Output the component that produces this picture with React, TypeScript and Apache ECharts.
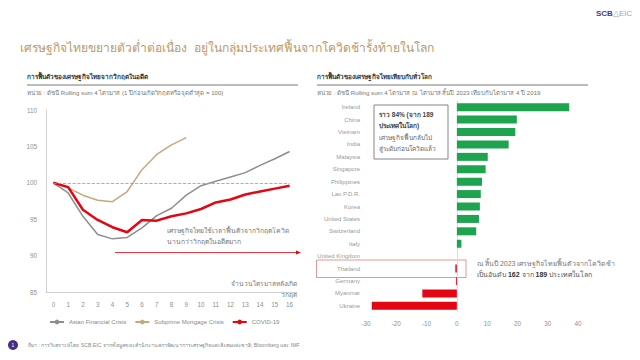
import React, { useEffect, useRef } from "react";
import * as echarts from "echarts";

const quarters = ["0", "1", "2", "3", "4", "5", "6", "7", "8", "9", "10", "11", "12", "13", "14", "15", "16"];
const asianCrisis = [100, 98.6, 95.4, 92.9, 92.3, 92.5, 93.8, 95.5, 96.5, 98.3, 99.6, 100.2, 100.8, 101.4, 102.4, 103.3, 104.3];
const subprimeCrisis = [100, 99.3, 98.3, 97.6, 97.4, 98.8, 101.8, 103.9, 105.2, 106.2];
const covid19 = [100, 99.4, 96.3, 94.9, 93.9, 93.2, 94.9, 94.8, 95.4, 95.8, 96.4, 97.3, 97.7, 98.4, 98.8, 99.2, 99.6];

const countries = [
  "Ireland", "China", "Vietnam", "India", "Malaysia", "Singapore", "Philippines", "Lao P.D.R.",
  "Korea", "United States", "Switzerland", "Italy", "United Kingdom", "Thailand", "Germany", "Myanmar", "Ukraine",
];
const recovery = [37.1, 19.8, 19.3, 17.1, 10.2, 9.5, 8.3, 7.9, 7.6, 7.3, 6.4, 1.5, 0, -0.5, -0.3, -11.4, -28.1];

const FONT = '"Liberation Sans", "Noto Sans", sans-serif';
const GRAY = "#8f8f8f";

export default function App() {
  const ref = useRef<HTMLDivElement>(null);
  useEffect(() => {
    const chart = echarts.init(ref.current!, null, { renderer: "svg" });
    const txt = (x: number, y: number, text: string, size: number, color: string, extra: any = {}) => ({
      type: "text",
      x,
      y,
      style: { text, fontSize: size, fill: color, fontFamily: FONT, verticalAlign: "middle", ...extra },
    });
    chart.setOption({
      animation: false,
      textStyle: { fontFamily: FONT },
      grid: [
        { left: 46, right: 343, top: 110, bottom: 68 },
        { left: 366, right: 62, top: 101, bottom: 48 },
      ],
      xAxis: [
        {
          gridIndex: 0,
          type: "category",
          data: quarters,
          boundaryGap: true,
          axisLine: { lineStyle: { color: "#cfcfcf" } },
          axisTick: { show: false },
          axisLabel: { color: GRAY, fontSize: 6.3, margin: 9 },
        },
        {
          gridIndex: 1,
          type: "value",
          min: -30,
          max: 40,
          interval: 10,
          axisLine: { show: false },
          axisTick: { show: false },
          splitLine: { show: false },
          axisLabel: { color: GRAY, fontSize: 6.3, margin: 8 },
        },
      ],
      yAxis: [
        {
          gridIndex: 0,
          type: "value",
          min: 85,
          max: 110,
          interval: 5,
          axisLine: { show: true, lineStyle: { color: "#cfcfcf" } },
          axisTick: { show: false },
          splitLine: { show: false },
          axisLabel: { color: GRAY, fontSize: 6.3, margin: 9 },
        },
        {
          gridIndex: 1,
          type: "category",
          data: countries,
          inverse: true,
          axisLine: { show: true, onZero: true, lineStyle: { color: "#dcdcdc" } },
          axisTick: { show: false },
          axisLabel: { color: "#999", fontSize: 6, margin: 6 },
        },
      ],
      legend: {
        left: 44,
        top: 314,
        itemWidth: 14,
        itemHeight: 6,
        itemGap: 8,
        textStyle: { color: "#888", fontSize: 6 },
        data: ["Asian Financial Crisis", "Subprime Mortgage Crisis", "COVID-19"],
      },
      series: [
        {
          name: "Asian Financial Crisis",
          type: "line",
          xAxisIndex: 0,
          yAxisIndex: 0,
          data: asianCrisis,
          symbol: "none",
          lineStyle: { color: "#8e8e8e", width: 1.5 },
          itemStyle: { color: "#8e8e8e" },
          markLine: {
            silent: true,
            symbol: "none",
            label: { show: false },
            lineStyle: { color: "#9a9a9a", type: "dashed", width: 0.8 },
            data: [[{ coord: ["0", 100] }, { coord: ["16", 100] }]],
          },
        },
        {
          name: "Subprime Mortgage Crisis",
          type: "line",
          xAxisIndex: 0,
          yAxisIndex: 0,
          data: subprimeCrisis,
          symbol: "none",
          lineStyle: { color: "#c6a87e", width: 1.5 },
          itemStyle: { color: "#c6a87e" },
        },
        {
          name: "COVID-19",
          type: "line",
          xAxisIndex: 0,
          yAxisIndex: 0,
          data: covid19,
          symbol: "none",
          lineStyle: { color: "#e30613", width: 2.5 },
          itemStyle: { color: "#e30613" },
        },
        {
          name: "recovery",
          type: "bar",
          xAxisIndex: 1,
          yAxisIndex: 1,
          data: recovery,
          barWidth: 8,
          itemStyle: {
            color: (p: any) => (p.value < 0 ? "#e30613" : "#1ea34e"),
          },
        },
      ],
      graphic: [
        {
          type: "text",
          x: 596,
          y: 13,
          style: {
            text: "{a|SCB}{b|△EIC}",
            verticalAlign: "middle",
            rich: {
              a: { fontSize: 8, fontWeight: "bold", fill: "#4a3b7c", fontFamily: FONT },
              b: { fontSize: 8, fill: "#a79cc9", fontFamily: FONT },
            },
          },
        },
        txt(20, 48, "เศรษฐกิจไทยขยายตัวต่ำต่อเนื่อง  อยู่ในกลุ่มประเทศฟื้นจากโควิดช้ารั้งท้ายในโลก", 12.1, "#b8996c"),
        txt(27, 76, "การฟื้นตัวของเศรษฐกิจไทยจากวิกฤตในอดีต", 6.35, "#333", { fontWeight: "bold" }),
        { type: "line", shape: { x1: 27, y1: 85, x2: 298, y2: 85 }, style: { stroke: "#555", lineWidth: 0.8 } },
        txt(27, 92.5, "หน่วย : ดัชนี Rolling sum 4 ไตรมาส (1 ปีก่อนเกิดวิกฤตหรือจุดต่ำสุด = 100)", 6.1, "#777"),
        txt(317, 76, "การฟื้นตัวของเศรษฐกิจไทยเทียบกับทั่วโลก", 6.35, "#333", { fontWeight: "bold" }),
        { type: "line", shape: { x1: 317, y1: 85, x2: 588, y2: 85 }, style: { stroke: "#555", lineWidth: 0.8 } },
        txt(317, 92.5, "หน่วย : ดัชนี Rolling sum 4 ไตรมาส ณ ไตรมาส สิ้นปี 2023 เทียบกับไตรมาส 4 ปี 2019", 6.1, "#777"),
        // left annotation
        txt(167, 230, "เศรษฐกิจไทยใช้เวลาฟื้นตัวจากวิกฤตโควิด", 6.8, "#777"),
        txt(167, 241, "นานกว่าวิกฤตในอดีตมาก", 6.8, "#777"),
        { type: "line", shape: { x1: 115, y1: 252.5, x2: 297, y2: 252.5 }, style: { stroke: "#e30613", lineWidth: 0.8 } },
        { type: "polygon", shape: { points: [[296, 250.5], [301, 252.5], [296, 254.5]] }, style: { fill: "#e30613" } },
        txt(297, 283, "จำนวนไตรมาสหลังเกิด", 6.6, "#777", { align: "right" }),
        txt(297, 294, "วิกฤต", 6.6, "#777", { align: "right" }),
        // right annotations
        { type: "rect", shape: { x: 374, y: 105, width: 74, height: 54 }, style: { fill: "#fff", stroke: "#666", lineWidth: 0.8 } },
        txt(379, 114, "ราว 84% (จาก 189", 6.5, "#444", { fontWeight: "bold" }),
        txt(379, 125.5, "ประเทศในโลก)", 6.5, "#444", { fontWeight: "bold" }),
        txt(379, 137.5, "เศรษฐกิจฟื้นกลับไป", 6.5, "#666"),
        txt(379, 148.5, "สู่ระดับก่อนโควิดแล้ว", 6.5, "#666"),
        { type: "rect", shape: { x: 316.5, y: 260, width: 149.5, height: 17.5 }, style: { fill: "none", stroke: "#d96a6a", lineWidth: 0.7 } },
        txt(477, 263, "ณ สิ้นปี 2023 เศรษฐกิจไทยฟื้นตัวจากโควิดช้า", 7, "#777"),
        {
          type: "text",
          x: 477,
          y: 274.5,
          style: {
            text: "{n|เป็นอันดับ }{b|162}{n| จาก }{b|189}{n| ประเทศในโลก}",
            verticalAlign: "middle",
            rich: {
              n: { fontSize: 7, fill: "#555", fontFamily: FONT },
              b: { fontSize: 7, fill: "#333", fontWeight: "bold", fontFamily: FONT },
            },
          },
        },
        // footer
        { type: "circle", shape: { cx: 13, cy: 345, r: 5 }, style: { fill: "#4b2c83" } },
        txt(13, 345, "1", 5, "#fff", { align: "center" }),
        txt(28, 345, "ที่มา : การวิเคราะห์โดย SCB EIC จากข้อมูลของสำนักงานสภาพัฒนาการเศรษฐกิจและสังคมแห่งชาติ, Bloomberg และ IMF", 5.2, "#888"),
      ],
    });
    return () => chart.dispose();
  }, []);
  return <div ref={ref} style={{ width: 640, height: 360, position: "absolute", left: 0, top: 0, background: "#fff" }} />;
}
